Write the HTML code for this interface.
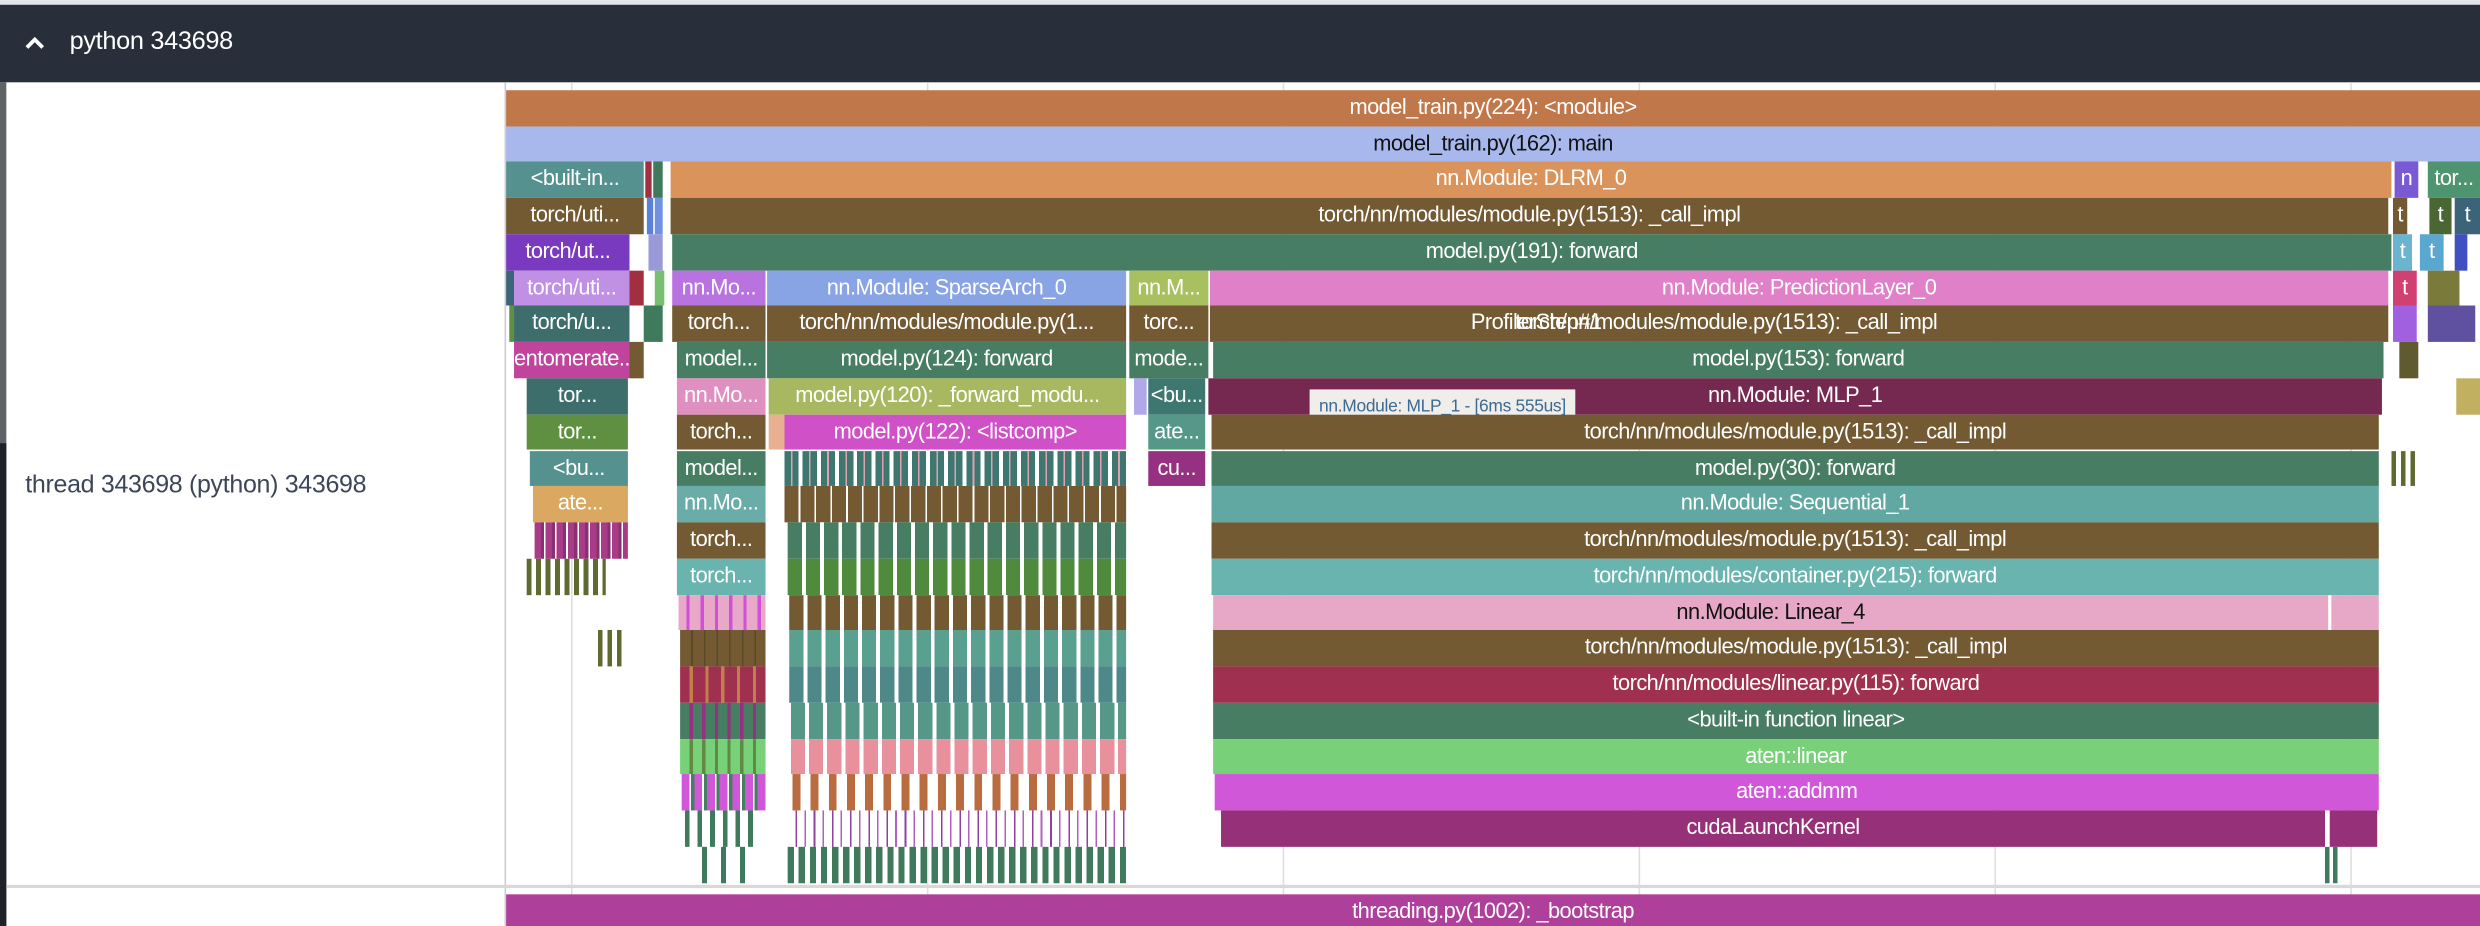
<!DOCTYPE html>
<html><head><meta charset="utf-8"><style>
html,body{margin:0;padding:0;width:2480px;height:926px;overflow:hidden;background:#fff}
#s{position:absolute;left:0;top:0;width:1568px;height:585px;transform-origin:0 0;transform:scale(1.58163,1.58291);font-family:"Liberation Sans",sans-serif}
.b{position:absolute;height:22.76px;line-height:22.76px;color:#fff;font-size:13.8px;letter-spacing:-0.35px;text-align:center;overflow:hidden;white-space:nowrap}
.g{position:absolute;top:52px;width:1px;height:533px;background:#dedede}
.st{position:absolute;height:22.76px}
</style></head><body><div id="s">
<div style="position:absolute;left:0;top:0;width:1568px;height:3px;background:#e3e5e8"></div>
<div style="position:absolute;left:0;top:2.5px;width:1568px;height:49.5px;background:#282e3a"></div>
<svg style="position:absolute;left:15px;top:22px" width="14" height="10"><polyline points="2,8 7,3 12,8" fill="none" stroke="#fff" stroke-width="2.4"/></svg>
<div style="position:absolute;left:44px;top:18px;color:#fff;font-size:16px;letter-spacing:-0.2px">python 343698</div>
<div style="position:absolute;left:0;top:52px;width:4px;height:533px;background:#5f6368"></div>
<div style="position:absolute;left:0;top:280px;width:4px;height:305px;background:#1f2329"></div>
<div style="position:absolute;left:319px;top:52px;width:1px;height:533px;background:#c8ccd4"></div>
<div style="position:absolute;left:16px;top:298px;color:#3c4658;font-size:15.8px;letter-spacing:-0.2px">thread 343698 (python) 343698</div>
<div class="g" style="left:361px"></div><div class="g" style="left:586px"></div><div class="g" style="left:811px"></div><div class="g" style="left:1036px"></div><div class="g" style="left:1261px"></div><div class="g" style="left:1486px"></div>
<div style="position:absolute;left:4px;top:559px;width:1564px;height:2px;background:#d8d8d8"></div>
<div class="b" style="left:320px;width:1248px;top:564.5px;height:20.5px;line-height:22px;background:#ae3f9b">threading.py(1002): _bootstrap</div>

<div class="b" style="left:320px;width:1248px;top:56.9px;background:#c0784a">model_train.py(224): &lt;module&gt;</div>
<div class="b" style="left:320px;width:1248px;top:79.66px;background:#a8b8ec;color:#111">model_train.py(162): main</div>

<div class="b" style="left:320px;width:87px;top:102.42px;background:#55918f">&lt;built-in...</div>
<div class="b" style="left:408px;width:4px;top:102.42px;background:#a03040"></div>
<div class="b" style="left:413px;width:6px;top:102.42px;background:#3f7a5c"></div>
<div class="b" style="left:424px;width:1088px;top:102.42px;background:#da935a">nn.Module: DLRM_0</div>
<div class="b" style="left:1514px;width:15px;top:102.42px;background:#7a5ad4">n</div>
<div class="b" style="left:1535px;width:33px;top:102.42px;background:#4f9470">tor...</div>

<div class="b" style="left:320px;width:87px;top:125.18px;background:#735a32">torch/uti...</div>
<div class="b" style="left:409px;width:4px;top:125.18px;background:#5a80d8"></div>
<div class="b" style="left:414px;width:5px;top:125.18px;background:#7090e0"></div>
<div class="b" style="left:424px;width:1086px;top:125.18px;background:#735a32">torch/nn/modules/module.py(1513): _call_impl</div>
<div class="b" style="left:1513px;width:9px;top:125.18px;background:#735a32">t</div>
<div class="b" style="left:1536px;width:14px;top:125.18px;background:#4a6632">t</div>
<div class="b" style="left:1552px;width:16px;top:125.18px;background:#3c6478">t</div>

<div class="b" style="left:320px;width:78px;top:147.94px;background:#7a3ac0">torch/ut...</div>
<div class="b" style="left:410px;width:9px;top:147.94px;background:#9a9ad8"></div>
<div class="b" style="left:425px;width:1087px;top:147.94px;background:#477d63">model.py(191): forward</div>
<div class="b" style="left:1513px;width:12px;top:147.94px;background:#6ab4d0">t</div>
<div class="b" style="left:1530px;width:15px;top:147.94px;background:#5aa8d0">t</div>
<div class="b" style="left:1552px;width:8px;top:147.94px;background:#4050c0"></div>

<div class="b" style="left:320px;width:5px;top:170.7px;background:#3e6478"></div>
<div class="b" style="left:325px;width:73px;top:170.7px;background:#c090e4">torch/uti...</div>
<div class="b" style="left:398px;width:9px;top:170.7px;background:#a03040"></div>
<div class="b" style="left:414px;width:6px;top:170.7px;background:#78c070"></div>
<div class="b" style="left:425px;width:59px;top:170.7px;background:#b873e0">nn.Mo...</div>
<div class="b" style="left:485px;width:227px;top:170.7px;background:#88a4e4">nn.Module: SparseArch_0</div>
<div class="b" style="left:714px;width:50px;top:170.7px;background:#a8c060">nn.M...</div>
<div class="b" style="left:765px;width:745px;top:170.7px;background:#e080c8">nn.Module: PredictionLayer_0</div>
<div class="b" style="left:1513px;width:15px;top:170.7px;background:#d04070">t</div>
<div class="b" style="left:1535px;width:20px;top:170.7px;background:#7a7a3a"></div>

<div class="b" style="left:322px;width:3px;top:193.46px;background:#5f9042"></div>
<div class="b" style="left:325px;width:73px;top:193.46px;background:#3e6e6c">torch/u...</div>
<div class="b" style="left:407px;width:12px;top:193.46px;background:#3f7a5c"></div>
<div class="b" style="left:425px;width:59px;top:193.46px;background:#735a32">torch...</div>
<div class="b" style="left:485px;width:227px;top:193.46px;background:#735a32">torch/nn/modules/module.py(1...</div>
<div class="b" style="left:714px;width:50px;top:193.46px;background:#735a32">torc...</div>
<div class="b" style="left:765px;width:745px;top:193.46px;background:#735a32"><span style="position:absolute;left:165px">ProfilerStep#1</span><span style="position:absolute;left:193px">torch/nn/modules/module.py(1513): _call_impl</span></div>
<div class="b" style="left:1513px;width:15px;top:193.46px;background:#a060e0"></div>
<div class="b" style="left:1535px;width:30px;top:193.46px;background:#6050a0"></div>

<div class="b" style="left:325px;width:73px;top:216.22px;background:#c0449c">entomerate...</div>
<div class="b" style="left:398px;width:9px;top:216.22px;background:#735a32"></div>
<div class="b" style="left:428px;width:56px;top:216.22px;background:#477d63">model...</div>
<div class="b" style="left:485px;width:227px;top:216.22px;background:#477d63">model.py(124): forward</div>
<div class="b" style="left:714px;width:50px;top:216.22px;background:#477d63">mode...</div>
<div class="b" style="left:767px;width:740px;top:216.22px;background:#477d63">model.py(153): forward</div>
<div class="b" style="left:1517px;width:12px;top:216.22px;background:#605a30"></div>

<div class="b" style="left:333px;width:64px;top:238.98px;background:#3e6e6c">tor...</div>
<div class="b" style="left:428px;width:56px;top:238.98px;background:#e090c0">nn.Mo...</div>
<div class="b" style="left:486px;width:226px;top:238.98px;background:#a8b860">model.py(120): _forward_modu...</div>
<div class="b" style="left:717px;width:8px;top:238.98px;background:#b0a8e8"></div>
<div class="b" style="left:726px;width:36px;top:238.98px;background:#3e7670">&lt;bu...</div>
<div class="b" style="left:764px;width:742px;top:238.98px;background:#752850">nn.Module: MLP_1</div>
<div class="b" style="left:1553px;width:15px;top:238.98px;background:#c0b060"></div>
<div style="position:absolute;left:828px;top:246px;width:168px;height:22px;background:#f0eeeb;color:#3c6a90;font-size:11px;line-height:22px;text-align:center;letter-spacing:-0.2px">nn.Module: MLP_1 - [6ms 555us]</div>

<div class="b" style="left:333px;width:64px;top:261.74px;background:#5f9042">tor...</div>
<div class="b" style="left:428px;width:56px;top:261.74px;background:#735a32">torch...</div>
<div class="b" style="left:486px;width:10px;top:261.74px;background:#e8b090"></div>
<div class="b" style="left:496px;width:216px;top:261.74px;background:#d050c8">model.py(122): &lt;listcomp&gt;</div>
<div class="b" style="left:726px;width:36px;top:261.74px;background:#559888">ate...</div>
<div class="b" style="left:766px;width:738px;top:261.74px;background:#735a32">torch/nn/modules/module.py(1513): _call_impl</div>

<div class="b" style="left:335px;width:62px;top:284.5px;background:#55918f">&lt;bu...</div>
<div class="b" style="left:428px;width:56px;top:284.5px;background:#477d63">model...</div>
<div class="st" style="left:496px;width:216px;top:284.5px;background:repeating-linear-gradient(90deg,#3e7670 0 4px,#e0a0b0 4px 5px,#3e7670 5px 9px,#fff 9px 11.5px)"></div>
<div class="b" style="left:726px;width:36px;top:284.5px;background:#963080">cu...</div>
<div class="b" style="left:766px;width:738px;top:284.5px;background:#477d63">model.py(30): forward</div>

<div class="b" style="left:337px;width:60px;top:307.26px;background:#daa860">ate...</div>
<div class="b" style="left:428px;width:56px;top:307.26px;background:#6aada8">nn.Mo...</div>
<div class="st" style="left:496px;width:216px;top:307.26px;background:repeating-linear-gradient(90deg,#735a32 0 9px,#fff 9px 10px)"></div>
<div class="b" style="left:766px;width:738px;top:307.26px;background:#62a8a2">nn.Module: Sequential_1</div>

<div class="st" style="left:338px;width:59px;top:330.02px;background:repeating-linear-gradient(90deg,#a83c88 0 4px,#8a3070 4px 6px,#fff 6px 7px)"></div>
<div class="b" style="left:428px;width:56px;top:330.02px;background:#735a32">torch...</div>
<div class="st" style="left:498px;width:214px;top:330.02px;background:repeating-linear-gradient(90deg,#477d63 0 9px,#fff 9px 11.5px)"></div>
<div class="b" style="left:766px;width:738px;top:330.02px;background:#735a32">torch/nn/modules/module.py(1513): _call_impl</div>

<div class="b" style="left:428px;width:56px;top:352.78px;background:#6ab4b0">torch...</div>
<div class="st" style="left:498px;width:214px;top:352.78px;background:repeating-linear-gradient(90deg,#508a3c 0 9px,#fff 9px 11.5px)"></div>
<div class="b" style="left:766px;width:738px;top:352.78px;background:#6ab4b0">torch/nn/modules/container.py(215): forward</div>

<div class="st" style="left:429px;width:55px;top:375.54px;background:repeating-linear-gradient(90deg,#e8a8c8 0 5px,#d050d8 5px 7px,#e8a8c8 7px 9px)"></div>
<div class="st" style="left:499px;width:213px;top:375.54px;background:repeating-linear-gradient(90deg,#735a32 0 9px,#fff 9px 11.5px)"></div>
<div class="b" style="left:767px;width:705px;top:375.54px;background:#e6a8c6;color:#111">nn.Module: Linear_4</div>
<div class="st" style="left:1474px;width:30px;top:375.54px;background:#e6a8c6"></div>

<div class="st" style="left:430px;width:54px;top:398.3px;background:repeating-linear-gradient(90deg,#735a32 0 7px,#5a4a28 7px 8px)"></div>
<div class="st" style="left:499px;width:213px;top:398.3px;background:repeating-linear-gradient(90deg,#5aa090 0 9px,#fff 9px 11.5px)"></div>
<div class="b" style="left:767px;width:737px;top:398.3px;background:#735a32">torch/nn/modules/module.py(1513): _call_impl</div>

<div class="st" style="left:430px;width:54px;top:421.06px;background:repeating-linear-gradient(90deg,#a03050 0 6px,#c0804a 6px 8px,#a03050 8px 10px)"></div>
<div class="st" style="left:499px;width:213px;top:421.06px;background:repeating-linear-gradient(90deg,#4e8888 0 9px,#fff 9px 11.5px)"></div>
<div class="b" style="left:767px;width:737px;top:421.06px;background:#a03050">torch/nn/modules/linear.py(115): forward</div>

<div class="st" style="left:430px;width:54px;top:443.82px;background:repeating-linear-gradient(90deg,#477d63 0 6px,#963080 6px 8px)"></div>
<div class="st" style="left:500px;width:212px;top:443.82px;background:repeating-linear-gradient(90deg,#559888 0 9px,#fff 9px 11.5px)"></div>
<div class="b" style="left:767px;width:737px;top:443.82px;background:#477d63">&lt;built-in function linear&gt;</div>

<div class="st" style="left:430px;width:54px;top:466.58px;background:repeating-linear-gradient(90deg,#78d078 0 6px,#608a40 6px 8px)"></div>
<div class="st" style="left:500px;width:212px;top:466.58px;background:repeating-linear-gradient(90deg,#e8909c 0 9px,#fff 9px 11.5px)"></div>
<div class="b" style="left:767px;width:737px;top:466.58px;background:#78d078">aten::linear</div>

<div class="st" style="left:431px;width:53px;top:489.34px;background:repeating-linear-gradient(90deg,#d058d8 0 5px,#fff 5px 6px,#477d63 6px 8px)"></div>
<div class="st" style="left:501px;width:211px;top:489.34px;background:repeating-linear-gradient(90deg,#b86c40 0 5px,#fff 5px 11.5px)"></div>
<div class="b" style="left:768px;width:736px;top:489.34px;background:#d058d8">aten::addmm</div>

<div class="st" style="left:503px;width:209px;top:512.1px;background:repeating-linear-gradient(90deg,#9040a0 0 1px,#fff 1px 5.5px,#b060c0 5.5px 6.5px,#fff 6.5px 11.5px)"></div>
<div class="b" style="left:772px;width:698px;top:512.1px;background:#963078">cudaLaunchKernel</div>
<div class="st" style="left:1473px;width:30px;top:512.1px;background:#963078"></div>

<div class="st" style="left:431px;width:50px;top:512.1px;background:repeating-linear-gradient(90deg,transparent 0 2px,#3f7a5c 2px 5px,transparent 5px 8px)"></div>
<div class="st" style="left:498px;width:214px;top:534.86px;background:repeating-linear-gradient(90deg,#3f7a5c 0 4px,transparent 4px 7px)"></div>
<div class="st" style="left:438px;width:40px;top:534.86px;background:repeating-linear-gradient(90deg,transparent 0 6px,#3f7a5c 6px 9px,transparent 9px 12px)"></div>
<div class="st" style="left:333px;width:50px;top:352.78px;background:repeating-linear-gradient(90deg,#5f6a30 0 3px,transparent 3px 6px)"></div>
<div class="st" style="left:378px;width:18px;top:398.3px;background:repeating-linear-gradient(90deg,#5f6a30 0 3px,transparent 3px 6px)"></div>
<div class="st" style="left:1470px;width:10px;top:534.86px;background:repeating-linear-gradient(90deg,#3f7a5c 0 3px,transparent 3px 5px)"></div>
<div class="st" style="left:1512px;width:16px;top:284.5px;background:repeating-linear-gradient(90deg,#5f6a30 0 3px,transparent 3px 6px)"></div>
</div></body></html>
